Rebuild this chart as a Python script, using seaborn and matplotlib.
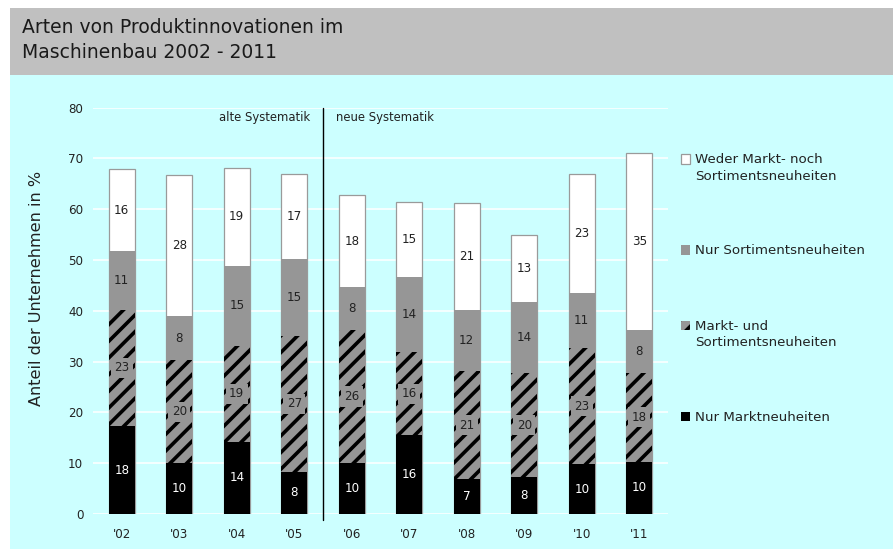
#%% Load dependencies
import pandas as pd
import seaborn as sns
import matplotlib.pyplot as plt
from matplotlib.patches import Rectangle

#%% data
years = ["'02", "'03", "'04", "'05", "'06", "'07", "'08", "'09", "'10", "'11"]

# segment heights in % (bottom to top)
nurMarkt = [17.3, 10.0, 14.2, 8.3, 10.1, 15.6, 6.9, 7.3, 9.8, 10.3]
marktSort = [22.9, 20.3, 18.9, 26.8, 26.1, 16.2, 21.2, 20.4, 22.9, 17.5]
nurSort = [11.6, 8.7, 15.8, 15.1, 8.5, 14.8, 12.1, 14.1, 10.9, 8.4]
weder = [16.1, 27.7, 19.3, 16.7, 18.1, 14.8, 21.0, 13.1, 23.3, 34.8]

# printed value labels
lblMarkt = [18, 10, 14, 8, 10, 16, 7, 8, 10, 10]
lblMarktSort = [23, 20, 19, 27, 26, 16, 21, 20, 23, 18]
lblSort = [11, 8, 15, 15, 8, 14, 12, 14, 11, 8]
lblWeder = [16, 28, 19, 17, 18, 15, 21, 13, 23, 35]

legendLabels = ['Weder Markt- noch\nSortimentsneuheiten', 'Nur Sortimentsneuheiten',
                'Markt- und\nSortimentsneuheiten', 'Nur Marktneuheiten']

#%% Plot settings
sns.set_style('whitegrid', {'axes.facecolor': 'none', 'grid.color': 'white',
                            'axes.edgecolor': 'none'})
plt.rcParams['font.family'] = ['DejaVu Sans']
plt.rcParams['hatch.linewidth'] = 2.6

cyan = '#CCFFFF'
grey = '#969696'
txt = '#222222'

df = pd.DataFrame({'jahr': years, 'markt': nurMarkt, 'marktSort': marktSort,
                   'sort': nurSort, 'weder': weder})
df['cumMarktSort'] = df.markt + df.marktSort
df['cumSort'] = df.cumMarktSort + df.sort
df['cumWeder'] = df.cumSort + df.weder

fig = plt.figure(figsize=(8.95, 5.52), dpi=100)
# background panels: grey title box + cyan chart area
fig.patches.append(Rectangle((10/895, 1-75/552), 883/895, 67/552, transform=fig.transFigure,
                             facecolor='#C0C0C0', edgecolor='none', zorder=-10))
fig.patches.append(Rectangle((10/895, 1-549/552), 883/895, 474/552, transform=fig.transFigure,
                             facecolor=cyan, edgecolor='none', zorder=-10))

ax = fig.add_axes([93/895, 1-514/552, 575/895, 406.3/552])

#stacked bars by layering cumulative totals, tallest first
layers = [('cumWeder', 'white', '#9a9a9a', 0.9, None),
          ('cumSort', grey, grey, 0, None),
          ('cumMarktSort', grey, 'black', 0, '//'),
          ('markt', 'black', 'black', 0, None)]
for col, fc, ec, lw, hatch in layers:
    sns.barplot(data=df, x='jahr', y=col, color=fc, edgecolor=ec, linewidth=lw, hatch=hatch,
                width=0.45, saturation=1, errorbar=None, ax=ax)

#value labels in the middle of each segment
fs = 8.6
for i in range(len(years)):
    ax.text(i, nurMarkt[i]/2, str(lblMarkt[i]), ha='center', va='center', fontsize=fs, color='white')
    ax.text(i, df.markt[i] + marktSort[i]/2, str(lblMarktSort[i]), ha='center', va='center',
            fontsize=fs, color=txt,
            bbox=dict(facecolor=grey, edgecolor='none', boxstyle='square,pad=0.3'))
    ax.text(i, df.cumMarktSort[i] + nurSort[i]/2, str(lblSort[i]), ha='center', va='center',
            fontsize=fs, color=txt)
    ax.text(i, df.cumSort[i] + weder[i]/2, str(lblWeder[i]), ha='center', va='center',
            fontsize=fs, color=txt)

#old vs new classification divider
ax.axvline(3.5, ymin=-0.015, ymax=1, color='black', lw=1, clip_on=False)
ax.text(3.28, 78, 'alte Systematik', ha='right', va='center', fontsize=8.4, color=txt)
ax.text(3.72, 78, 'neue Systematik', ha='left', va='center', fontsize=8.4, color=txt)

ax.set_xlim(-0.5, 9.5)
ax.set_ylim(0, 80)
ax.set_yticks(range(0, 81, 10))
ax.grid(axis='y', color='white', lw=1.1)
ax.grid(axis='x', visible=False)
ax.tick_params(length=0, labelsize=8.6, labelcolor=txt)
ax.tick_params(axis='y', pad=7)
ax.tick_params(axis='x', pad=10)
ax.set_xlabel('')
ax.set_ylabel('Anteil der Unternehmen in %', fontsize=11.6, color=txt)
ax.yaxis.set_label_coords(-0.085, 0.556)
for s in ax.spines.values():
    s.set_visible(False)

leg = ax.legend(ax.containers, legendLabels, loc='upper left', bbox_to_anchor=(681/895, 1-153/552),
                bbox_transform=fig.transFigure, frameon=False, fontsize=9.6, labelcolor=txt,
                handlelength=0.7, handleheight=0.7, handletextpad=0.35, labelspacing=4.65,
                borderpad=0, borderaxespad=0)
for t in leg.get_texts():
    t.set_linespacing(1.35)
#square next to the first line of the two-line entries
for i in (0, 2):
    h = leg.legend_handles[i]
    h.set_y(h.get_y() + 6.5)

fig.text(22/895, 1-40/552, 'Arten von Produktinnovationen im\nMaschinenbau 2002 - 2011',
         ha='left', va='center', fontsize=13.5, color='#1a1a1a', linespacing=1.35)

fig.savefig('out.png', dpi=100)
